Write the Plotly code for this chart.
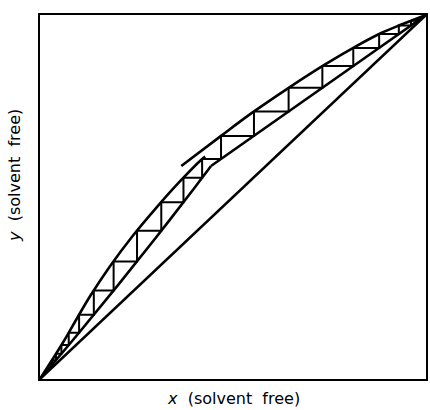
import plotly.graph_objects as go

# Equilibrium curve, stripping-section branch (solvent-free x, y)
eq_lo_x = [0.0, 0.03, 0.06, 0.09, 0.13, 0.18, 0.24, 0.30, 0.36, 0.42, 0.428]
eq_lo_y = [0.0, 0.050, 0.101, 0.156, 0.228, 0.308, 0.393, 0.469, 0.540, 0.6044, 0.611]

# Equilibrium curve, enriching-section branch
eq_hi_x = [0.366, 0.4691, 0.549, 0.6443, 0.7345, 0.8196, 0.884, 0.933, 1.0]
eq_hi_y = [0.585, 0.668, 0.731, 0.800, 0.8615, 0.9145, 0.9505, 0.9725, 1.0]

# Operating curve, stripping section (origin to the feed)
op_lo_x = [0.0, 0.1, 0.2, 0.3, 0.4, 0.443]
op_lo_y = [0.0, 0.1258, 0.2552, 0.3882, 0.5248, 0.585]

# Operating line, enriching section (feed to the top product)
op_hi_x = [0.443, 1.0]
op_hi_y = [0.585, 1.0]

# Stage compositions (x_n, y_n) on the equilibrium curves, bottom to top
stage_x = [0.0231, 0.0309, 0.0414, 0.0555, 0.0744, 0.1013, 0.1394, 0.1907, 0.2514,
           0.3142, 0.3717, 0.4200, 0.4690, 0.5543, 0.6441, 0.7315, 0.8116, 0.8786,
           0.9296, 0.9611, 0.9786, 0.9882, 0.9935]
stage_y = [0.0385, 0.0516, 0.0694, 0.0933, 0.1274, 0.1764, 0.2430, 0.3231, 0.4074,
           0.4858, 0.5526, 0.6044, 0.6679, 0.7348, 0.7999, 0.8596, 0.9095, 0.9475,
           0.9710, 0.9840, 0.9912, 0.9951, 0.9973]

diag = [0.0, 1.0]

fig = go.Figure()
ink = dict(color="black", width=2.6)

fig.add_trace(go.Scatter(x=diag, y=diag, mode="lines", line=ink))
fig.add_trace(go.Scatter(x=eq_lo_x, y=eq_lo_y, mode="lines", line=dict(ink, shape="spline")))
fig.add_trace(go.Scatter(x=eq_hi_x, y=eq_hi_y, mode="lines", line=dict(ink, shape="spline")))
fig.add_trace(go.Scatter(x=op_lo_x, y=op_lo_y, mode="lines", line=dict(ink, shape="spline")))
fig.add_trace(go.Scatter(x=op_hi_x, y=op_hi_y, mode="lines", line=ink))

# Staircase: across from each stage to the operating curve, then up to the next stage
sx, sy = [], []
for i in range(1, len(stage_x)):
    sx += [stage_x[i - 1], stage_x[i], stage_x[i], None]
    sy += [stage_y[i - 1], stage_y[i - 1], stage_y[i], None]
fig.add_trace(go.Scatter(x=sx, y=sy, mode="lines", line=dict(color="black", width=2)))

axis = dict(range=[0, 1], showgrid=False, zeroline=False, showticklabels=False,
            ticks="", showline=True, linecolor="black", linewidth=2, mirror=True)
fig.update_xaxes(**axis)
fig.update_yaxes(**axis)

font = dict(family="DejaVu Sans", size=16, color="black")
fig.add_annotation(text="<i>x</i>  (solvent  free)", x=0.5, y=-0.022, xref="paper", yref="paper",
                   xanchor="center", yanchor="top", showarrow=False, font=font)
fig.add_annotation(text="<i>y</i>  (solvent  free)", x=-0.068, y=0.56, xref="paper", yref="paper",
                   xanchor="center", yanchor="middle", textangle=-90, showarrow=False, font=font)

fig.update_layout(width=430, height=410, margin=dict(l=40, r=2, t=15, b=31),
                  plot_bgcolor="white", paper_bgcolor="white", showlegend=False)

fig.write_html("out.html")
